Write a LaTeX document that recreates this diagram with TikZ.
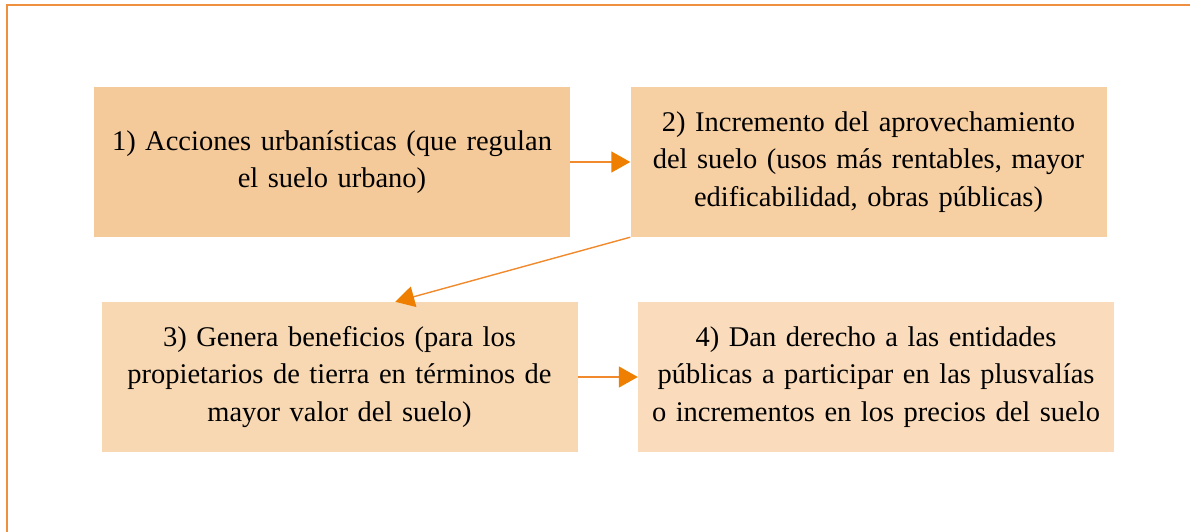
\documentclass[tikz,border=0pt]{standalone}
\usepackage{fontspec}
\setmainfont{Liberation Serif}
\usetikzlibrary{arrows.meta,calc}
\definecolor{frameC}{HTML}{EE9040}
\definecolor{boxA}{HTML}{F5CA9A}
\definecolor{boxB}{HTML}{F6CFA3}
\definecolor{boxC}{HTML}{F8D8B2}
\definecolor{boxD}{HTML}{FADCBC}
\definecolor{arrC}{HTML}{F08A2C}
\definecolor{tipC}{HTML}{EE7F00}
\tikzset{
  stepbox/.style={minimum width=476pt,minimum height=150pt,text width=472pt,align=center,inner sep=0pt,
    font=\fontsize{28.5}{37.5}\selectfont},
  arr/.style={draw=arrC,line width=1.4pt,-{Triangle[length=19pt,width=21pt,color=tipC]}}
}
\begin{document}
\begin{tikzpicture}[x=1pt,y=-1pt]
\useasboundingbox (0,0) rectangle (1190,532);
\draw[frameC,line width=2pt] (7,532) coordinate (fl) -- (7,5) coordinate (fc) -- (1190,5) coordinate (fr);
\node[stepbox,fill=boxA] (b1) at (332,162) {1) Acciones urbanísticas (que regulan\\el suelo urbano)};
\node[stepbox,fill=boxB] (b2) at (868.5,162) {2) Incremento del aprovechamiento\\del suelo (usos más rentables, mayor\\edificabilidad, obras públicas)};
\node[stepbox,fill=boxC] (b3) at (339.5,377) {3) Genera beneficios (para los\\propietarios de tierra en términos de\\mayor valor del suelo)};
\node[stepbox,fill=boxD] (b4) at (876,377) {4) Dan derecho a las entidades\\públicas a participar en las plusvalías\\o incrementos en los precios del suelo};
\draw[arr] (b1.east) -- (b2.west);
\draw[arr] (b2.south west) -- ($(b3.north west)+(294,0)$);
\draw[arr] (b3.east) -- (b4.west);
\end{tikzpicture}
\end{document}
